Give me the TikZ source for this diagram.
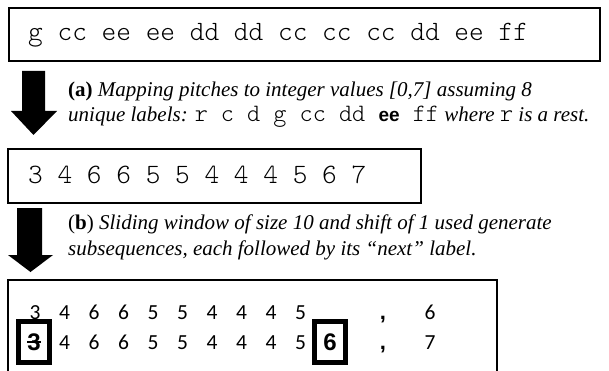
\documentclass[tikz,border=0pt]{standalone}
\usepackage{fontspec}
\setmainfont{Liberation Serif}
\setmonofont{Latin Modern Mono Light}
\newfontfamily\numfont{Carlito}
\newfontfamily\heavyfont{Liberation Sans}
\usetikzlibrary{positioning}
\newcommand\capmono[1]{{\fontsize{25}{25}\selectfont\ttfamily\upshape #1}}

\tikzset{
  seqbox/.style={draw, line width=2pt},
  seqtext/.style={font=\fontsize{28}{30}\selectfont\ttfamily, inner sep=0pt, anchor=base west},
  captext/.style={font=\fontsize{21}{25}\selectfont\itshape, inner sep=0pt, anchor=base west},
  digit/.style={font=\fontsize{21.5}{24}\selectfont\numfont, inner sep=0pt, anchor=base},
  picked/.style={draw, line width=4.5pt, minimum width=31pt, minimum height=41pt, inner sep=0pt,
    font=\fontsize{24}{28}\selectfont\heavyfont\bfseries}
}

\begin{document}
\begin{tikzpicture}[x=1pt,y=-1pt]
\useasboundingbox (0,0) rectangle (609,371);
% pitch sequence
\draw[seqbox] (9,8) rectangle (600,61);
\node[seqtext] (pitches) at (28,41) {g cc ee ee dd dd cc cc cc dd ee ff};
\fill (22,71) -- (45,71) -- (45,111) -- (57,111) -- (33.5,135) -- (11,111) -- (22,111) -- cycle;
\node[captext] (capa) at (68,97) {\textbf{\upshape(a)} Mapping pitches to integer values [0,7] assuming 8};
\node[captext] (capb) at (68,122) {unique labels: \capmono{r c d g cc dd {\heavyfont\bfseries\fontsize{19}{25}\selectfont ee} ff} where \capmono{r} is a rest.};
% integer sequence
\draw[seqbox] (8,149) rectangle (421,203);
\node[seqtext] (codes) at (28,183) {3 4 6 6 5 5 4 4 4 5 6 7};
\fill (17,208) -- (42,208) -- (42,255) -- (53,255) -- (30.5,272) -- (8,255) -- (17,255) -- cycle;
\node[captext] (capc) at (68,229) {\upshape(\textbf{b})\itshape{} Sliding window of size 10 and shift of 1 used generate};
\node[captext] (capd) at (68,255) {subsequences, each followed by its ``next'' label.};
% windows
\draw[seqbox] (8,380) -- (8,280) -- (497,280) -- (497,380);
\foreach \d [count=\i] in {3,4,6,6,5,5,4,4,4,5}
  \node[digit] (w\i) at ({35+29.5*(\i-1)},319) {\d};
\node[picked] (drop) at (34,342) {3};
\draw[line width=1.5pt] ([xshift=-7pt]drop.center) -- ([xshift=7pt]drop.center);
\foreach \d [count=\i from 2] in {4,6,6,5,5,4,4,4,5}
  \node[digit] (v\i) at ({35+29.5*(\i-1)},349) {\d};
\node[picked] (next) at (330,342) {6};
\node[digit, font=\fontsize{22}{24}\selectfont\heavyfont\bfseries] (sep1) at (383,319) {,};
\node[digit, font=\fontsize{22}{24}\selectfont\heavyfont\bfseries] (sep2) at (383,349) {,};
\node[digit] (out1) at (430,319) {6};
\node[digit] (out2) at (430,349) {7};
\end{tikzpicture}
\end{document}
